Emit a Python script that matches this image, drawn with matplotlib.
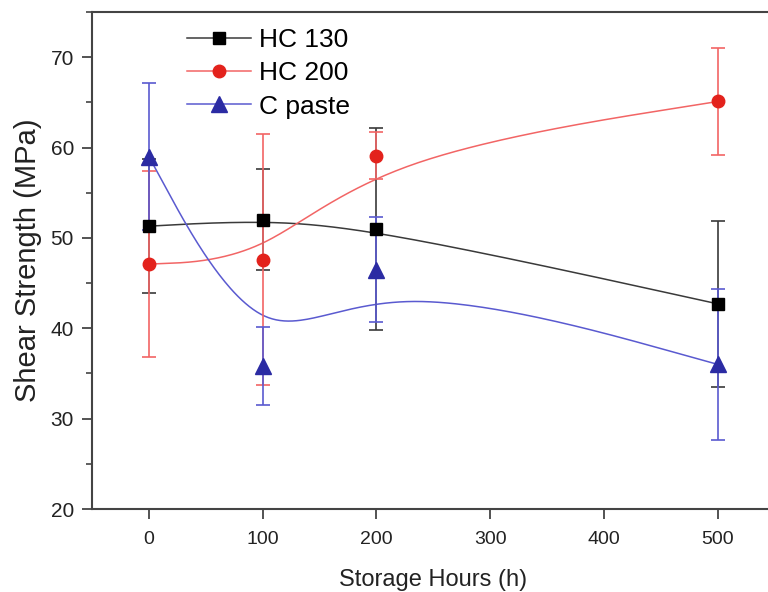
import matplotlib
matplotlib.use('Agg')
import matplotlib.pyplot as plt
import numpy as np
from matplotlib.lines import Line2D
from matplotlib.ticker import MultipleLocator

hours = [0, 100, 200, 500]
hc130 = [51.3, 52.0, 51.0, 42.7]
hc130_err = [7.4, 5.6, 11.2, 9.2]
hc200 = [47.1, 47.6, 59.1, 65.1]
hc200_err = [10.3, 13.9, 2.6, 5.9]
cpaste = [59.0, 35.8, 46.5, 36.0]
cpaste_err = [8.1, 4.3, 5.8, 8.4]


def bspline(xs, ys, num=60):
    # uniform cubic B-spline, end points tripled so the curve hits them
    pts = np.column_stack([xs, ys]).astype(float)
    q = np.vstack([pts[:1], pts[:1], pts, pts[-1:], pts[-1:]])
    t = np.linspace(0, 1, num)[:, None]
    b0 = (1 - t) ** 3 / 6
    b1 = (3 * t ** 3 - 6 * t ** 2 + 4) / 6
    b2 = (-3 * t ** 3 + 3 * t ** 2 + 3 * t + 1) / 6
    b3 = t ** 3 / 6
    out = [b0 * q[i] + b1 * q[i + 1] + b2 * q[i + 2] + b3 * q[i + 3]
           for i in range(len(q) - 3)]
    out = np.vstack(out)
    return out[:, 0], out[:, 1]


plt.rcParams['font.family'] = ['Liberation Sans', 'DejaVu Sans']

fig = plt.figure(figsize=(7.68, 5.92), dpi=100)
ax = fig.add_axes([0.1198, 0.1402, 0.889, 0.8395])

series = [
    ('HC 130', hc130, hc130_err, '#3a3a3a', 'black', 's', 8),
    ('HC 200', hc200, hc200_err, '#f26565', '#e3221c', 'o', 9),
    ('C paste', cpaste, cpaste_err, '#5a5ad0', '#2b2ba3', '^', 11),
]

handles = []
for name, vals, err, lc, mc, mk, ms in series:
    sx, sy = bspline(hours, vals)
    ax.plot(sx, sy, color=lc, lw=1.1, zorder=2)
    ax.errorbar(hours, vals, yerr=err, fmt='none', ecolor=lc, elinewidth=1.2,
                capsize=5, capthick=1.2, zorder=3)
    ax.plot(hours, vals, linestyle='none', marker=mk, ms=ms, color=mc,
            markeredgecolor=mc, zorder=4)
    handles.append(Line2D([0], [0], color=lc, lw=1.1, marker=mk, ms=ms,
                          markerfacecolor=mc, markeredgecolor=mc))

ax.set_xlim(-50, 550)
ax.set_ylim(20, 75)
ax.set_xticks([0, 100, 200, 300, 400, 500])
ax.set_yticks([20, 30, 40, 50, 60, 70])
ax.yaxis.set_minor_locator(MultipleLocator(5))

for s in ax.spines.values():
    s.set_color('#444444')
    s.set_linewidth(1.5)

ax.tick_params(axis='both', which='major', direction='out', length=7, width=1.3,
               color='#444444', labelcolor='#222222')
ax.tick_params(axis='x', which='major', labelsize=14, pad=9)
ax.tick_params(axis='y', which='major', labelsize=15, pad=6)
ax.tick_params(axis='y', which='minor', direction='out', length=4, width=1.2,
               color='#444444')

ax.set_xlabel('Storage Hours (h)', fontsize=17, color='#222222', labelpad=15)
ax.set_ylabel('Shear Strength (MPa)', fontsize=21, color='#222222', labelpad=6)

ax.legend(handles, ['HC 130', 'HC 200', 'C paste'], loc='upper left',
          bbox_to_anchor=(0.132, 0.978), frameon=False, fontsize=19,
          handlelength=2.4, handletextpad=0.3, labelspacing=0.35,
          borderpad=0.2, borderaxespad=0)

fig.savefig('out.png', dpi=100)
